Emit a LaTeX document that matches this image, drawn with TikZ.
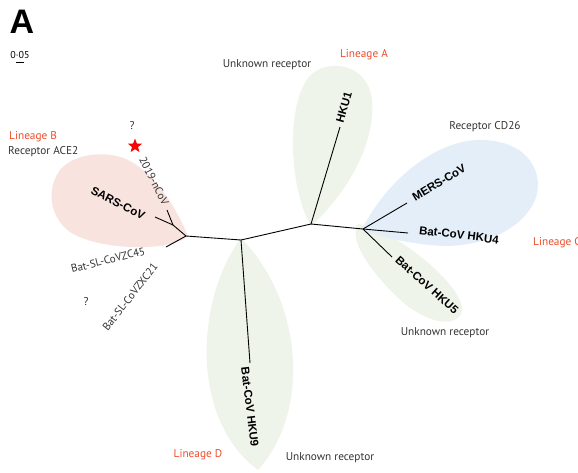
\documentclass[tikz,border=0pt]{standalone}
\usepackage{fontspec}
\setmainfont{PT Sans}
\newfontfamily\labfont{Liberation Sans}
\usetikzlibrary{shapes.geometric}
\definecolor{pinkb}{HTML}{F8E3DF}
\definecolor{greenb}{HTML}{EEF4E9}
\definecolor{blueb}{HTML}{E3EEF8}
\definecolor{linred}{HTML}{EE4B2B}
\definecolor{txtgray}{HTML}{333333}
\begin{document}
\begin{tikzpicture}[x=1pt,y=-1pt,
  branch/.style={line width=0.9pt, black},
  leaf/.style={font=\labfont\bfseries\fontsize{11.5}{13}\selectfont, inner sep=0pt},
  note/.style={font=\fontsize{11.3}{13}\selectfont, text=txtgray, inner sep=0pt},
  lin/.style={font=\fontsize{11.3}{13}\selectfont, text=linred, inner sep=0pt},
  small/.style={font=\fontsize{11}{12}\selectfont, text=txtgray, inner sep=0pt}]
\useasboundingbox (0,0) rectangle (578,472);
\clip (0,0) rectangle (578,472);
% blobs
\fill[pinkb] (188,236) .. controls (175,250) and (110,252) .. (75,235) .. controls (50,222) and (45,190) .. (60,170) .. controls (75,152) and (110,150) .. (130,161) .. controls (155,175) and (175,205) .. (188,236);
\fill[greenb] (311,226) .. controls (290,190) and (285,110) .. (308,78) .. controls (325,57) and (368,62) .. (372,100) .. controls (376,150) and (340,200) .. (311,226);
\fill[greenb] (358,224) .. controls (395,228) and (472,292) .. (461,314) .. controls (452,330) and (420,320) .. (395,295) .. controls (370,270) and (348,240) .. (358,224);
\fill[blueb] (362,230) .. controls (380,190) and (430,140) .. (480,140) .. controls (530,140) and (545,175) .. (535,200) .. controls (520,235) and (470,250) .. (430,245) .. controls (400,242) and (375,235) .. (362,230);
\fill[greenb] (241,238) .. controls (195,300) and (190,420) .. (258,470) .. controls (312,410) and (302,300) .. (241,238);
% tree
\coordinate (jB) at (186,236);
\coordinate (jS) at (173,225);
\coordinate (lSARS) at (155,217);
\coordinate (lN) at (167,210);
\coordinate (lZC) at (166,247);
\coordinate (jD) at (241,240);
\coordinate (lD) at (250,363);
\coordinate (jA) at (311,224);
\coordinate (lA) at (340,127);
\coordinate (jC) at (363,229);
\coordinate (lM) at (407,203);
\coordinate (l4) at (408,233);
\coordinate (l5) at (392,257);
\draw[branch] (jS) -- (jB) -- (jD) -- (jA) -- (jC);
\draw[branch] (jS) -- (lSARS);
\draw[branch] (jS) -- (lN);
\draw[branch] (jB) -- (lZC);
\draw[branch] (jD) -- (lD);
\draw[branch] (jA) -- (lA);
\draw[branch] (jC) -- (lM);
\draw[branch] (jC) -- (l4);
\draw[branch] (jC) -- (l5);
% leaf labels
\node[leaf, rotate=-27] (tSARS) at (118,203) {SARS-CoV};
\node[small, rotate=-63] (tN) at (154,181) {2019-nCoV};
\node[small, rotate=14] (tZC) at (108,260) {Bat-SL-CoVZC45};
\node[small, rotate=52] (tZXC) at (130,297) {Bat-SL-CoVZXC21};
\node[leaf, rotate=74] (tA) at (344,107) {HKU1};
\node[leaf, rotate=31] (tM) at (439,183) {MERS-CoV};
\node[leaf, rotate=-7] (t4) at (459,235) {Bat-CoV HKU4};
\node[leaf, rotate=-42] (t5) at (427,285) {Bat-CoV HKU5};
\node[leaf, rotate=-83] (tD) at (250,407) {Bat-CoV HKU9};
% notes
\node[font=\labfont\bfseries\fontsize{34}{36}\selectfont, inner sep=0pt] (big) at (22,22) {A};
\node[font=\fontsize{10}{12}\selectfont, inner sep=0pt] (scale) at (20,55) {0·05};
\coordinate (s1) at (16,62);
\coordinate (s2) at (24,62);
\draw[line width=0.7pt] (s1) -- (s2);
\node[lin, anchor=west] (linB) at (9,137) {Lineage B};
\node[note, anchor=west] (recB) at (8,152) {Receptor ACE2};
\node[note] (q1) at (132,126) {?};
\node[star, star points=5, star point ratio=2.4, fill=red, draw=none, minimum size=15pt, inner sep=0pt] (star) at (135,146) {};
\node[note] (q2) at (86,302) {?};
\node[note] (unkA) at (267,65) {Unknown receptor};
\node[lin] (linA) at (364,55) {Lineage A};
\node[note] (recC) at (485,127) {Receptor CD26};
\node[lin, anchor=west] (linC) at (533,243) {Lineage C};
\node[note] (unkC) at (445,333) {Unknown receptor};
\node[lin] (linD) at (198,455) {Lineage D};
\node[note] (unkD) at (330,458) {Unknown receptor};
\end{tikzpicture}
\end{document}
